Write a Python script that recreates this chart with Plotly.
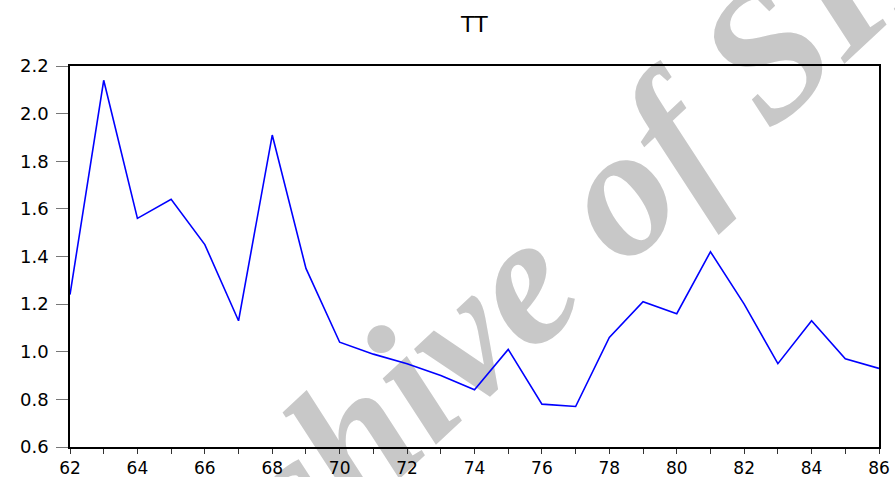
import plotly.graph_objects as go

years = list(range(62, 87))
tt = [1.24, 2.14, 1.56, 1.64, 1.45, 1.13, 1.91, 1.35, 1.04, 0.99, 0.95, 0.90, 0.84,
      1.01, 0.78, 0.77, 1.06, 1.21, 1.16, 1.42, 1.20, 0.95, 1.13, 0.97, 0.93]
y_ticks = [0.6, 0.8, 1.0, 1.2, 1.4, 1.6, 1.8, 2.0, 2.2]
x_ticks = list(range(62, 87, 2))

fig = go.Figure()
fig.add_trace(go.Scatter(x=years, y=tt, mode="lines",
                         line=dict(color="#0000ff", width=1.6), showlegend=False))

fig.add_shape(type="rect", xref="paper", yref="paper",
              x0=0.55, x1=0.56, y0=0.50, y1=0.51, layer="below",
              line=dict(width=0), fillcolor="rgba(0,0,0,0)",
              label=dict(text="<b><i>Archive of SID</i></b>", textangle=-43,
                         textposition="middle center",
                         font=dict(family="Liberation Serif", size=185, color="#c8c8c8")))

fig.update_layout(
    width=895, height=477,
    margin=dict(l=70, r=16, t=66, b=30),
    paper_bgcolor="white", plot_bgcolor="white",
    title=dict(text="TT", x=0.53, xanchor="center", y=0.95, yanchor="middle",
               font=dict(family="DejaVu Sans", size=22, color="#000")),
    xaxis=dict(range=[62, 86], tickvals=x_ticks, ticktext=[str(v) for v in x_ticks],
               ticks="outside", ticklen=5, tickcolor="#333", tickwidth=1,
               minor=dict(dtick=1, ticks="outside", ticklen=5, tickcolor="#333"),
               showline=True, linecolor="#000", linewidth=1.5, mirror=True,
               showgrid=False, zeroline=False,
               tickfont=dict(family="DejaVu Sans", size=17, color="#000"),
               ticklabelstandoff=0, automargin=False),
    yaxis=dict(range=[0.6, 2.2], tickvals=y_ticks,
               ticktext=[f"{v:.1f}" for v in y_ticks],
               ticks="outside", ticklen=12, tickcolor="#777", tickwidth=1,
               showline=True, linecolor="#000", linewidth=1.5, mirror=True,
               showgrid=False, zeroline=False,
               tickfont=dict(family="DejaVu Sans", size=18, color="#000"),
               ticklabelstandoff=4, automargin=False),
)

fig.write_html("out.html")
